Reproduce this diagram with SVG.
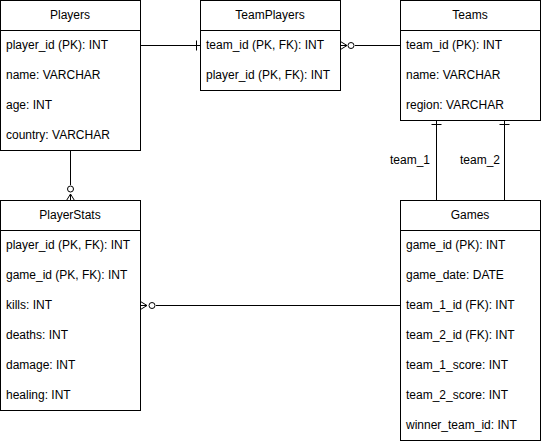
<svg xmlns="http://www.w3.org/2000/svg" width="541" height="444" viewBox="0 0 541 444">
<style>
.box{fill:#fff;stroke:#000;stroke-width:1}
.ln{fill:none;stroke:#000;stroke-width:1}
text{font-family:"Liberation Sans",Arial,sans-serif;font-size:12px;fill:#000}
.h{text-anchor:middle}
.c{fill:#fff;stroke:#000;stroke-width:1}
</style>
<rect width="541" height="444" fill="#fff"/>
<g id="connectors">
  <!-- Players -> TeamPlayers -->
  <path class="ln" d="M140.5 45.5H200.5M196.5 40.5V50.5"/>
  <!-- TeamPlayers -> Teams -->
  <path class="ln" d="M355 45.5H400.5"/>
  <path class="ln" d="M340.5 41.5L347 45.5L340.5 49.5M340.5 45.5H347"/>
  <circle class="c" cx="351" cy="45.5" r="3"/>
  <!-- Teams -> Games -->
  <path class="ln" d="M436.5 120.5V200.5M431.5 124.5H441.5"/>
  <path class="ln" d="M504.5 120.5V200.5M499.5 124.5H509.5"/>
  <text x="410" y="164" class="h">team_1</text>
  <text x="480" y="164" class="h">team_2</text>
  <!-- Players -> PlayerStats -->
  <path class="ln" d="M70.5 150.5V185"/>
  <path class="ln" d="M66.5 200.5L70.5 194L74.5 200.5M70.5 200.5V194"/>
  <circle class="c" cx="70.5" cy="189" r="3"/>
  <!-- PlayerStats -> Games -->
  <path class="ln" d="M156 305.5H400.5"/>
  <path class="ln" d="M140.5 301.5L147 305.5L140.5 309.5M140.5 305.5H147"/>
  <circle class="c" cx="152" cy="305.5" r="3"/>
</g>
<g id="Players">
  <rect class="box" x="0.5" y="0.5" width="140" height="150"/>
  <path class="ln" d="M0.5 30.5H140.5"/>
  <text x="70" y="19" class="h">Players</text>
  <text x="6" y="49">player_id (PK): INT</text>
  <text x="6" y="79">name: VARCHAR</text>
  <text x="6" y="109">age: INT</text>
  <text x="6" y="139">country: VARCHAR</text>
</g>
<g id="TeamPlayers">
  <rect class="box" x="200.5" y="0.5" width="140" height="90"/>
  <path class="ln" d="M200.5 30.5H340.5"/>
  <text x="270" y="19" class="h">TeamPlayers</text>
  <text x="206" y="49">team_id (PK, FK): INT</text>
  <text x="206" y="79">player_id (PK, FK): INT</text>
</g>
<g id="Teams">
  <rect class="box" x="400.5" y="0.5" width="140" height="120"/>
  <path class="ln" d="M400.5 30.5H540.5"/>
  <text x="470" y="19" class="h">Teams</text>
  <text x="406" y="49">team_id (PK): INT</text>
  <text x="406" y="79">name: VARCHAR</text>
  <text x="406" y="109">region: VARCHAR</text>
</g>
<g id="PlayerStats">
  <rect class="box" x="0.5" y="200.5" width="140" height="210"/>
  <path class="ln" d="M0.5 230.5H140.5"/>
  <text x="70" y="219" class="h">PlayerStats</text>
  <text x="6" y="249">player_id (PK, FK): INT</text>
  <text x="6" y="279">game_id (PK, FK): INT</text>
  <text x="6" y="309">kills: INT</text>
  <text x="6" y="339">deaths: INT</text>
  <text x="6" y="369">damage: INT</text>
  <text x="6" y="399">healing: INT</text>
</g>
<g id="Games">
  <rect class="box" x="400.5" y="200.5" width="140" height="240"/>
  <path class="ln" d="M400.5 230.5H540.5"/>
  <text x="470" y="219" class="h">Games</text>
  <text x="406" y="249">game_id (PK): INT</text>
  <text x="406" y="279">game_date: DATE</text>
  <text x="406" y="309">team_1_id (FK): INT</text>
  <text x="406" y="339">team_2_id (FK): INT</text>
  <text x="406" y="369">team_1_score: INT</text>
  <text x="406" y="399">team_2_score: INT</text>
  <text x="406" y="429">winner_team_id: INT</text>
</g>
</svg>
